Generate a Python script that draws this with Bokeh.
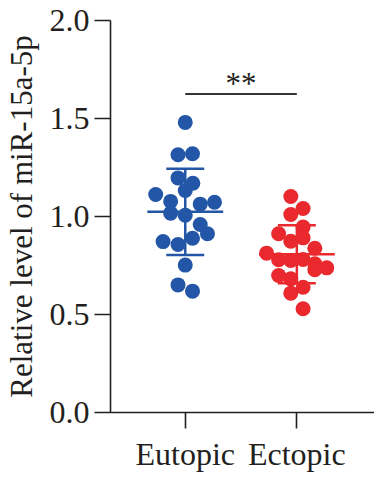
import numpy as np
from bokeh.plotting import figure
from bokeh.models import FixedTicker
from bokeh.core.properties import value
from bokeh.embed import file_html
from bokeh.resources import INLINE

# ---- data ----
categories = ["Eutopic", "Ectopic"]
cat_pos = [1, 2]

eutopic_values = [1.480, 1.315, 1.320, 1.197, 1.170, 1.133, 1.112, 1.077, 1.063, 1.073,
                  1.017, 1.007, 0.959, 0.912, 0.889, 0.872, 0.857, 0.752, 0.651, 0.619]
eutopic_jitter = [0.0, -0.065, 0.065, -0.065, 0.068, 0.0, -0.265, -0.131, 0.134, 0.262,
                  -0.131, 0.0, 0.134, 0.199, 0.065, -0.199, -0.065, 0.0, -0.065, 0.065]

ectopic_values = [1.102, 1.041, 1.010, 0.946, 0.912, 0.891, 0.874, 0.838, 0.813, 0.779,
                  0.776, 0.781, 0.759, 0.738, 0.728, 0.699, 0.682, 0.639, 0.609, 0.529]
ectopic_jitter = [-0.054, 0.056, -0.054, 0.056, -0.163, 0.056, -0.054, 0.161, -0.271, -0.163,
                  -0.054, 0.056, 0.161, 0.268, 0.161, -0.163, -0.054, 0.056, -0.054, 0.056]

y_ticks = [0.0, 0.5, 1.0, 1.5, 2.0]
sig_label = "**"
sig_level = 1.625
y_label = "Relative level of miR-15a-5p"

# ---- style ----
BLUE = "#2356A6"
RED = "#E9292E"
INK = "#231F20"
FONT = "Liberation Serif"

p = figure(width=374, height=477, x_range=(0.33, 2.696), y_range=(0.0, 2.0),
           output_backend="svg", toolbar_location=None,
           min_border_left=109, min_border_right=0, min_border_top=20, min_border_bottom=65)
p.outline_line_color = None
p.xgrid.visible = False
p.ygrid.visible = False
p.background_fill_color = "white"
p.border_fill_color = "white"

for vals, jit, pos, col in [(eutopic_values, eutopic_jitter, 1, BLUE),
                            (ectopic_values, ectopic_jitter, 2, RED)]:
    xs = [pos + j for j in jit]
    p.scatter(x=xs, y=vals, size=15, fill_color=col, line_color=None)
    arr = np.array(vals)
    m = arr.mean()
    sd = arr.std(ddof=1)
    p.segment(x0=[pos - 0.34], y0=[m], x1=[pos + 0.34], y1=[m], line_color=col, line_width=2.5)
    p.segment(x0=[pos - 0.17, pos - 0.17], y0=[m + sd, m - sd],
              x1=[pos + 0.17, pos + 0.17], y1=[m + sd, m - sd], line_color=col, line_width=2.5)
    p.segment(x0=[pos], y0=[m - sd], x1=[pos], y1=[m + sd], line_color=col, line_width=2.5)

# significance bracket
p.segment(x0=[cat_pos[0]], y0=[sig_level], x1=[cat_pos[1]], y1=[sig_level],
          line_color="#333333", line_width=2)
p.text(x=[(cat_pos[0] + cat_pos[1]) / 2], y=[sig_level + 0.055], text=[sig_label],
       text_font=value(FONT), text_font_size="31px", text_color=INK,
       text_align="center", text_baseline="alphabetic")

# axes
p.xaxis.ticker = FixedTicker(ticks=cat_pos)
p.xaxis.major_label_overrides = {1: categories[0], 2: categories[1]}
p.yaxis.ticker = FixedTicker(ticks=y_ticks)
p.yaxis.major_label_overrides = {t: f"{t:.1f}" for t in y_ticks}
for ax in (p.xaxis[0], p.yaxis[0]):
    ax.axis_line_color = INK
    ax.axis_line_width = 1.6
    ax.major_tick_line_color = INK
    ax.major_tick_line_width = 1.6
    ax.major_tick_out = 16
    ax.major_tick_in = 0
    ax.minor_tick_line_color = None
    ax.major_label_text_font = FONT
    ax.major_label_text_font_size = "32px"
    ax.major_label_text_color = INK
p.xaxis.major_label_standoff = 7
p.yaxis.major_label_standoff = 5
p.yaxis.axis_label = y_label
p.yaxis.axis_label_text_font = FONT
p.yaxis.axis_label_text_font_size = "31px"
p.yaxis.axis_label_text_font_style = "normal"
p.yaxis.axis_label_text_color = INK
p.yaxis.axis_label_standoff = 8

open("out.html", "w").write(file_html(p, INLINE))
